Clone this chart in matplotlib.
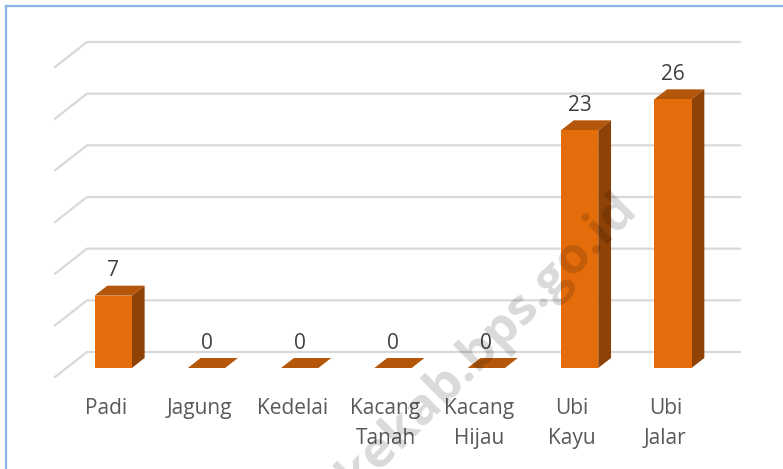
import matplotlib.pyplot as plt
from matplotlib.patches import Polygon
from matplotlib.lines import Line2D

categories = ["Padi", "Jagung", "Kedelai", "Kacang\nTanah", "Kacang\nHijau", "Ubi\nKayu", "Ubi\nJalar"]
values = [7, 0, 0, 0, 0, 23, 26]
grid_values = [0, 5, 10, 15, 20, 25, 30]

W, H = 783, 469
fig = plt.figure(figsize=(W / 100, H / 100), dpi=100, facecolor="white")

# axes = back wall of the fake 3D box (pixel box 87..740, 42..352)
ax = fig.add_axes([87 / W, (H - 352) / H, (740 - 87) / W, (352 - 42) / H])
ax.set_xlim(-0.5, 6.5)
ax.set_ylim(0, 30)
ax.axis("off")

px_x = (740 - 87) / 7.0      # pixels per category
px_y = (352 - 42) / 30.0     # pixels per unit
DEPTH_X, DEPTH_Y = -32, -25  # pixel shift from back wall to front plane


def proj(x, v, d):
    # point at depth d (0 = back wall, 1 = front plane)
    return (x + DEPTH_X * d / px_x, v + DEPTH_Y * d / px_y)


# gridlines: slanted side part + flat back part
for g in grid_values:
    pts = [proj(-0.5, g, 1), proj(-0.5, g, 0), proj(6.5, g, 0)]
    ax.add_line(Line2D([p[0] for p in pts], [p[1] for p in pts], color="#D9D9D9",
                       lw=1.6, clip_on=False, zorder=1, solid_joinstyle="miter"))

front_c = "#E46C0A"
top_c = "#B5570A"
side_c = "#8F4206"
hw = 0.2
d_back, d_front = 0.24, 0.64

for i, v in enumerate(values):
    xl, xr = i - hw, i + hw
    top = [proj(xl, v, d_front), proj(xr, v, d_front), proj(xr, v, d_back), proj(xl, v, d_back)]
    ax.add_patch(Polygon(top, closed=True, fc=top_c, ec="none", clip_on=False, zorder=3))
    if v > 0:
        front = [proj(xl, 0, d_front), proj(xr, 0, d_front), proj(xr, v, d_front), proj(xl, v, d_front)]
        side = [proj(xr, 0, d_front), proj(xr, 0, d_back), proj(xr, v, d_back), proj(xr, v, d_front)]
        ax.add_patch(Polygon(side, closed=True, fc=side_c, ec="none", clip_on=False, zorder=3))
        ax.add_patch(Polygon(front, closed=True, fc=front_c, ec="none", clip_on=False, zorder=4))
    lx, ly = proj(i, v, d_front)
    _, ly = proj(i, v, d_back)
    ax.annotate(str(v), xy=(lx, ly), xytext=(0, 15), textcoords="offset pixels",
                ha="center", va="center", fontsize=15, color="#404040",
                family="Open Sans", annotation_clip=False, zorder=6)

for i, c in enumerate(categories):
    ax.annotate(c, xy=(i, 0), xytext=(-28, -(398 - 352)), textcoords="offset pixels",
                ha="center", va="top", fontsize=15, color="#595959", linespacing=1.55,
                family="Open Sans", annotation_clip=False)

# watermark
fig.text(488 / W, (H - 342) / H, "kekab.bps.go.id", rotation=45, ha="center", va="center",
         fontsize=37, fontweight="bold", color="black", alpha=0.15, family="Open Sans",
         rotation_mode="anchor", zorder=10)

# chart frame (only top and left visible)
fig.add_artist(Line2D([6 / W, 1], [(H - 6) / H] * 2, color="#8DB3E2", lw=1.6))
fig.add_artist(Line2D([6 / W] * 2, [0, (H - 6) / H], color="#8DB3E2", lw=1.6))

fig.savefig("out.png", dpi=100)
